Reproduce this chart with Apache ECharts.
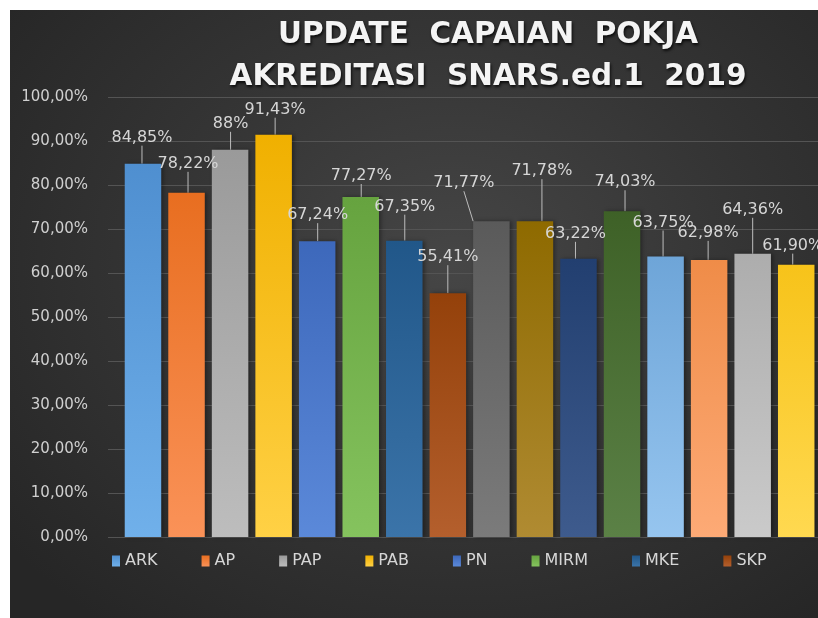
<!DOCTYPE html>
<html>
<head>
<meta charset="utf-8">
<script src="https://cdn.jsdelivr.net/npm/echarts@6/dist/echarts.min.js"></script>
<style>
  html, body { margin: 0; padding: 0; background: #ffffff; }
  #bg { position: absolute; left: 10px; top: 10px; width: 808px; height: 608px;
        background: radial-gradient(ellipse 70% 75% at 55% 42%, #464646 0%, #353535 50%, #262626 100%); }
  #chart { position: absolute; left: 0; top: 0; width: 818px; height: 618px; }
</style>
</head>
<body>
<div id="bg"></div>
<div id="chart"></div>
<script>
// ---- data ----
const categories = ['ARK', 'AP', 'PAP', 'PAB', 'PN', 'MIRM', 'MKE', 'SKP',
                    'HPK', 'PKPO', 'PMKP', 'PPI', 'TKRS', 'MFK', 'KKS', 'IPKP'];
const values = [0.8485, 0.7822, 0.88, 0.9143, 0.6724, 0.7727, 0.6735, 0.5541,
                0.7177, 0.7178, 0.6322, 0.7403, 0.6375, 0.6298, 0.6436, 0.6190];
const valueLabels = ['84,85%', '78,22%', '88%', '91,43%', '67,24%', '77,27%', '67,35%', '55,41%',
                     '71,77%', '71,78%', '63,22%', '74,03%', '63,75%', '62,98%', '64,36%', '61,90%'];
const legendNames = ['ARK', 'AP', 'PAP', 'PAB', 'PN', 'MIRM', 'MKE', 'SKP'];
const yTickLabels = ['0,00%', '10,00%', '20,00%', '30,00%', '40,00%', '50,00%',
                     '60,00%', '70,00%', '80,00%', '90,00%', '100,00%'];
const titleText = 'UPDATE  CAPAIAN  POKJA\nAKREDITASI  SNARS.ed.1  2019';

// ---- styles ----
const barColors = [
  ['#4f8fd0', '#70b0ea'], ['#e86e20', '#fa9258'], ['#9a9a9a', '#bdbdbd'], ['#f0b000', '#ffd145'],
  ['#3d68bb', '#5b89d9'], ['#66a33f', '#85c35e'], ['#215789', '#3b74a9'], ['#94410a', '#b45f2d'],
  ['#5a5a5a', '#7b7b7b'], ['#8e6a00', '#b08b32'], ['#223f70', '#3e5b8d'], ['#3e6127', '#5b8146'],
  ['#6ea5d8', '#96c5ef'], ['#ef8c48', '#fdaa76'], ['#adadad', '#cacaca'], ['#f7c31a', '#ffd950']
];
const labelOffsets = [
  [-1, -13], [1.5, -16], [0.5, -13], [1.5, -12], [0.5, -13], [0.5, -8], [0.5, -21], [0, -23],
  [-27.5, -25], [7, -37], [-3, -12], [3, -16], [-2.5, -21], [-1, -14], [0, -31], [-3.5, -6]
];
const FONT = 'DejaVu Sans';

const series = categories.map((name, i) => ({
  name: name,
  type: 'bar',
  stack: 'all',
  xAxisIndex: 1,
  yAxisIndex: 1,
  barWidth: 36.5,
  data: categories.map((c, j) => (j === i ? values[i] : '-')),
  itemStyle: {
    color: new echarts.graphic.LinearGradient(0, 0, 0, 1, [
      { offset: 0, color: barColors[i][0] },
      { offset: 1, color: barColors[i][1] }
    ]),
    shadowColor: 'rgba(0,0,0,0.35)',
    shadowBlur: 4,
    shadowOffsetX: 2,
    shadowOffsetY: 0
  },
  label: {
    show: true,
    position: 'top',
    distance: 5,
    color: '#d6d6d6',
    fontFamily: FONT,
    fontSize: 16,
    formatter: () => valueLabels[i]
  },
  labelLayout: { dx: labelOffsets[i][0], dy: labelOffsets[i][1] },
  labelLine: { show: true, lineStyle: { color: '#bdbdbd', width: 1 } }
}));

const chart = echarts.init(document.getElementById('chart'), null, { renderer: 'canvas' });
chart.setOption({
  animation: false,
  backgroundColor: 'transparent',
  title: {
    text: titleText,
    left: 483,
    top: 9,
    textAlign: 'center',
    textStyle: {
      color: '#f4f4f4',
      fontFamily: FONT,
      fontWeight: 'bold',
      fontSize: 29.5,
      lineHeight: 42.5,
      textShadowColor: 'rgba(0,0,0,0.8)',
      textShadowBlur: 3,
      textShadowOffsetX: 1,
      textShadowOffsetY: 2
    }
  },
  legend: {
    data: legendNames,
    left: 107,
    top: 548,
    itemWidth: 8,
    itemHeight: 11,
    itemGap: 44,
    icon: 'rect',
    textStyle: { color: '#d6d6d6', fontFamily: FONT, fontSize: 16 }
  },
  grid: [
    { left: 108, right: 0, top: 97, bottom: 81 },
    { left: 121.2, right: 0, top: 97, bottom: 81 }
  ],
  xAxis: [
    { gridIndex: 0, type: 'value', min: 0, max: 1, show: false },
    { gridIndex: 1, type: 'category', data: categories,
      axisLine: { show: false }, axisTick: { show: false }, axisLabel: { show: false } }
  ],
  yAxis: [
    { gridIndex: 0, type: 'value', min: 0, max: 1, interval: 0.1,
      axisLine: { show: false }, axisTick: { show: false },
      axisLabel: { color: '#d0d0d0', fontFamily: FONT, fontSize: 15, margin: 20,
                   formatter: (v, idx) => yTickLabels[idx] },
      splitLine: { lineStyle: { color: '#545454', width: 1 } } },
    { gridIndex: 1, type: 'value', min: 0, max: 1, interval: 0.1, show: false,
      splitLine: { show: false } }
  ],
  series: series
});
</script>
</body>
</html>
